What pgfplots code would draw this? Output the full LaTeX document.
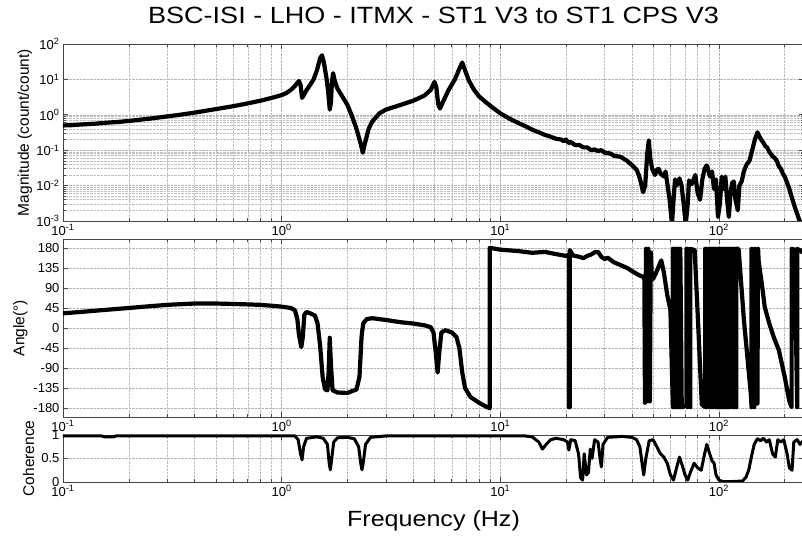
\documentclass[border=0pt]{standalone}
\usepackage{pgfplots}
\pgfplotsset{compat=1.18}
\usepackage{fontspec}
\setmainfont{Liberation Sans}
\usepackage{graphicx}

\pgfplotsset{
  bode/.style={
    scale only axis, width=741pt, xmin=0.1, xmax=245,
    axis line style={gray!55!black, line width=0.8pt},
    tick style={gray!55!black, line width=0.6pt},
    tick align=inside, major tick length=5pt, minor tick length=3pt,
    xtick={0.1,1,10,100},
    xticklabels={10\textsuperscript{-1},10\textsuperscript{0},10\textsuperscript{1},10\textsuperscript{2}},
    minor xtick={0.2,0.3,0.4,0.5,0.6,0.7,0.8,0.9,2,3,4,5,6,7,8,9,20,30,40,50,60,70,80,90,200},
    xmajorgrids, xminorgrids, ymajorgrids,
    major grid style={densely dotted, gray!60, line width=0.5pt},
    minor grid style={densely dotted, gray!50, line width=0.5pt},
    tick label style={font=\fontsize{13}{15}\selectfont},
    every axis y label/.append style={font=\fontsize{15.5}{17}\selectfont, anchor=center},
    /pgf/number format/assume math mode=true,
  },
  trace/.style={black, line width=4.2pt, line join=round, line cap=round, mark=none},
}

\begin{document}
\begin{tikzpicture}

% Magnitude
\begin{loglogaxis}[bode, at={(63pt,316pt)}, anchor=south west, height=177pt,
  ymin=1e-3, ymax=1e2,
  ytick={1e-3,1e-2,1e-1,1,10,100},
  yticklabels={10\textsuperscript{-3},10\textsuperscript{-2},10\textsuperscript{-1},10\textsuperscript{0},10\textsuperscript{1},10\textsuperscript{2}},
  minor ytick={0.002,0.003,0.004,0.005,0.006,0.007,0.008,0.009,0.02,0.03,0.04,0.05,0.06,0.07,0.08,0.09,0.2,0.3,0.4,0.5,0.6,0.7,0.8,0.9},
  yminorgrids,
  ylabel={Magnitude (count/count)},
  ylabel style={at={(axis description cs:-0.0513,0.5)}},
  title={\scalebox{1.15}[1]{BSC-ISI - LHO - ITMX - ST1 V3 to ST1 CPS V3}},
  title style={font=\fontsize{23.5}{26}\selectfont, at={(axis description cs:0.5,1)}, anchor=base, yshift=14pt},
]
\addplot[trace] coordinates {
(0.1,0.50)(0.11,0.51)(0.12,0.53)(0.14,0.56)(0.16,0.6)(0.18,0.63)(0.2,0.67)(0.25,0.78)(0.3,0.9)(0.35,1.02)
(0.4,1.15)(0.5,1.45)(0.6,1.75)(0.7,2.1)(0.8,2.5)(0.9,3.0)(1.0,3.6)(1.05,4.1)(1.1,5.0)(1.15,6.5)(1.18,8.0)
(1.2,9.0)(1.22,7.0)(1.24,3.0)(1.26,3.5)(1.3,5.0)(1.35,7.0)(1.4,10)(1.45,18)(1.5,40)(1.53,48)(1.56,30)
(1.6,12)(1.63,5)(1.66,1.4)(1.68,2.2)(1.7,9)(1.72,15)(1.75,9)(1.8,5.5)(1.85,4.2)(1.9,3.2)(2.0,1.9)(2.1,0.9)
(2.2,0.4)(2.3,0.15)(2.35,0.085)(2.4,0.15)(2.5,0.4)(2.6,0.65)(2.8,1.1)(3.0,1.4)(3.5,1.9)(4.0,2.5)(4.5,3.5)
(4.8,5.0)(5.0,8.5)(5.1,6.0)(5.2,2.0)(5.3,1.5)(5.5,2.5)(5.8,5.0)(6.2,10)(6.5,20)(6.7,30)(6.9,18)(7.2,9)
(7.6,5)(8.0,3.3)(8.5,2.4)(9,1.8)(10,1.1)(11,0.78)(12,0.6)(13,0.48)(14,0.38)(15,0.32)(16,0.27)(17,0.24)
(18,0.21)(19,0.2)(19.5,0.18)(20,0.2)(20.5,0.16)(21,0.17)(22,0.14)(23,0.14)(24,0.12)(25,0.12)(26,0.1)
(27,0.105)(28,0.095)(29,0.1)(30,0.085)(32,0.08)(33,0.07)(35.5,0.065)(38,0.05)(40,0.038)(42,0.028)(43,0.02)
(44,0.012)(45,0.0065)(46,0.01)(47,0.08)(47.8,0.19)(48.5,0.06)(49.5,0.03)(51,0.02)(52,0.028)(53,0.03)
(54,0.022)(56,0.018)(57,0.025)(58,0.012)(59.5,0.004)(61,0.0008)(62,0.004)(63,0.015)(64,0.01)(65,0.012)
(66,0.016)(67.5,0.01)(69,0.003)(70.5,0.0008)(72,0.003)(73,0.014)(75,0.011)(76,0.013)(78,0.02)(80,0.006)
(82,0.004)(84,0.015)(86,0.03)(88,0.037)(89,0.03)(91,0.018)(93,0.025)(95,0.008)(97,0.015)(99,0.0013)
(101,0.003)(103,0.018)(105,0.008)(107,0.018)(109,0.004)(111,0.0013)(113,0.006)(115,0.012)(117,0.013)
(119,0.004)(122,0.002)(124,0.01)(127,0.013)(130,0.025)(134,0.04)(138,0.05)(142,0.1)(146,0.2)(150,0.32)
(153,0.25)(156,0.2)(160,0.16)(163,0.13)(166,0.12)(170,0.09)(175,0.07)(180,0.06)(184,0.05)(188,0.035)
(192,0.03)(196,0.022)(200,0.018)(205,0.012)(210,0.008)(217,0.004)(225,0.002)(234,0.001)(245,0.0006)
};
\end{loglogaxis}

% Phase
\begin{semilogxaxis}[bode, at={(63pt,120pt)}, anchor=south west, height=178pt,
  ymin=-200, ymax=200,
  ytick={-180,-135,-90,-45,0,45,90,135,180},
  ylabel={Angle(°)},
  ylabel style={at={(axis description cs:-0.0574,0.5)}},
]
\addplot[trace] coordinates {
(0.1,33)(0.12,36)(0.15,40)(0.2,45)(0.25,49)(0.3,52)(0.4,55)(0.5,55)(0.6,54)(0.7,53)(0.8,52)(0.9,50)
(1.0,48)(1.1,45)(1.15,40)(1.18,20)(1.2,-15)(1.23,-43)(1.25,-20)(1.27,30)(1.3,36)(1.35,33)(1.42,28)
(1.46,10)(1.5,-40)(1.54,-110)(1.58,-138)(1.62,-140)(1.64,-100)(1.66,-22)(1.68,-80)(1.71,-140)(1.8,-145)
(2.0,-146)(2.2,-138)(2.27,-110)(2.32,-20)(2.36,10)(2.45,20)(2.6,22)(3.0,18)(3.5,13)(4.0,10)(4.5,6)
(4.8,2)(4.95,-10)(5.08,-60)(5.17,-100)(5.27,-50)(5.38,-10)(5.6,-5)(6.0,-10)(6.3,-20)(6.5,-45)(6.7,-100)
(6.9,-135)(7.3,-155)(8.0,-168)(8.7,-178)(8.95,-180)(8.95,180)(9.5,178)(10,176)(12,173)(14,169)(16,171)
(18,166)(20,162)(20.6,165)(20.6,-178)(20.8,-178)(20.8,175)(21.5,163)(23,160)(24,157)(25,162)(26,165)
(27,170)(28,171)(29,160)(30,155)(31,158)(33,148)(36,140)(38,135)(40,128)(43,119)(45,115)(45.6,110)
(45.9,-168)(46.4,178)(46.8,-165)(47.5,178)(48.3,-165)(48.8,170)(49.3,120)(50,110)(52,128)(54.5,152)
(56,125)(58,75)(60,40)(61,-100)(61.6,-178)(61.6,178)(62.5,-60)(63,-178)(63,178)(64,-178)(64,178)
(65,-100)(65.6,-178)(65.6,178)(66.6,-178)(66.6,178)(67.6,-178)(71,-175)(71,178)(72,-178)(72,178)
(73,-100)(74,-178)(74,178)(77.5,175)(80.5,0)(83.5,-172)(86.5,-178)(86.5,178)(88,-178)(88,178)
(89.5,-40)(90.5,-178)(90.5,178)(92,-178)(92,178)(93.5,-178)(93.5,178)(95,-170)(95,178)(96.5,-178)
(96.5,178)(98,-178)(99,-178)(99,178)(100.5,-178)(100.5,178)(102,-178)(102,178)(104,-178)(104,178)
(106,-178)(106,178)(108,-178)(108,178)(110,-178)(110,178)(112,-178)(112,178)(114,-175)(114,178)
(116,-178)(116,178)(118,-178)(118,178)(120,-178)(120,178)(123,178)(130,20)(137,-100)(140,-150)
(141,-178)(141,178)(145,-178)(146,178)(150,-170)(151,178)(152,150)(158,90)(162,47)(170,10)(178,-20)
(188,-50)(200,-110)(210,-165)(215,-178)(215,178)(222,176)(228,-178)(228,178)(245,168)
};
\end{semilogxaxis}

% Coherence
\begin{semilogxaxis}[bode, at={(63pt,55pt)}, anchor=south west, height=47pt,
  ymin=0, ymax=1,
  ytick={0,0.5,1},
  ylabel={Coherence},
  ylabel style={at={(axis description cs:-0.0466,0.5)}},
  xlabel={\scalebox{1.14}[1]{Frequency (Hz)}},
  xlabel style={font=\fontsize{22}{24}\selectfont, at={(axis description cs:0.5,0)}, anchor=base, yshift=-45pt},
]
\addplot[trace, line width=3pt] coordinates {
(0.1,0.98)(0.15,0.98)(0.155,0.96)(0.17,0.96)(0.175,0.98)(1.15,0.98)(1.19,0.9)(1.22,0.6)(1.24,0.47)
(1.26,0.75)(1.3,0.93)(1.45,0.96)(1.55,0.93)(1.62,0.8)(1.65,0.4)(1.67,0.26)(1.69,0.45)(1.73,0.85)(1.8,0.94)
(2.0,0.95)(2.15,0.92)(2.25,0.75)(2.3,0.4)(2.33,0.26)(2.36,0.4)(2.42,0.8)(2.55,0.95)(3,0.98)(13,0.98)
(14,0.96)(15,0.85)(15.6,0.7)(16.2,0.8)(17,0.9)(18,0.93)(19.5,0.9)(20.3,0.85)(20.6,0.68)(21,0.9)(22,0.88)
(22.8,0.6)(23.3,0.09)(23.8,0.04)(24.2,0.6)(24.8,0.15)(25.3,0.2)(25.8,0.7)(26.3,0.5)(27,0.9)(28,0.85)
(28.6,0.5)(29,0.32)(29.5,0.8)(31,0.95)(36,0.97)(40,0.95)(42,0.9)(43.5,0.75)(44.5,0.4)(45.3,0.15)
(46.3,0.5)(48,0.88)(50,0.9)(52,0.75)(54,0.6)(56,0.53)(58,0.4)(60,0.15)(62,0.04)(64,0.3)(66,0.53)(68,0.35)
(70,0.15)(72,0.04)(74,0.2)(77,0.4)(80,0.3)(83,0.25)(86,0.6)(88,0.8)(90,0.65)(93,0.45)(95,0.4)(97,0.15)
(100,0.04)(104,0.01)(115,0.01)(128,0.02)(133,0.1)(137,0.26)(141,0.55)(145,0.8)(150,0.92)(155,0.88)
(160,0.93)(165,0.85)(170,0.9)(176,0.6)(181,0.53)(186,0.9)(192,0.85)(198,0.9)(205,0.6)(210,0.3)(216,0.25)
(220,0.85)(228,0.9)(235,0.8)(245,0.9)
};
\end{semilogxaxis}

\pgfresetboundingbox
\path[use as bounding box] (0,0) rectangle (802pt,537pt);
\end{tikzpicture}
\end{document}
